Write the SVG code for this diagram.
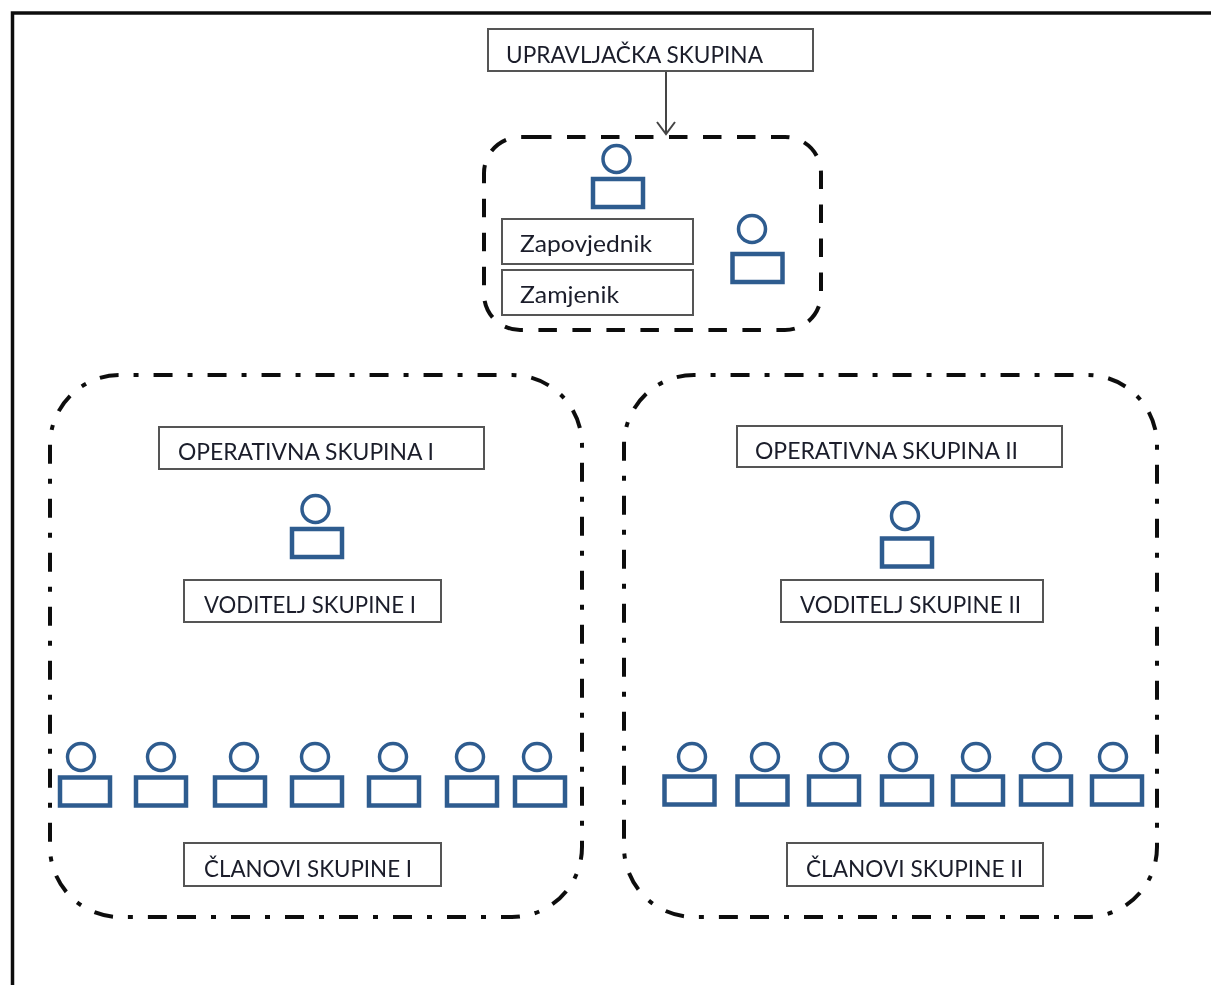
<svg xmlns="http://www.w3.org/2000/svg" width="1211" height="985" viewBox="0 0 1211 985">
<style>
.box{fill:#fff;stroke:#555;stroke-width:2}
.lbl{font-family:"Lato","Open Sans","Liberation Sans",sans-serif;font-size:24px;fill:#1a1f2b}
.dash{fill:none;stroke:#111;stroke-width:4}
.a{stroke-dasharray:18.500 15.500}
.b{stroke-dasharray:19 15 5 15}
.head{fill:#fff;stroke:#2f5b8f;stroke-width:3.500}
.body{fill:#fff;stroke:#2f5b8f;stroke-width:4.500}
.conn{fill:none;stroke:#444;stroke-width:2}
</style>
<defs>
<filter id="soft" x="0" y="0" width="100%" height="100%"><feGaussianBlur stdDeviation="0.5"/></filter>
<circle id="h" class="head" r="13.500"/>
<rect id="r" class="body" x="-25" y="-14" width="50" height="28"/>
</defs>
<g filter="url(#soft)">
<rect width="1211" height="985" fill="#fff"/>
<path id="frame" d="M1211 13H12.500V985" fill="none" stroke="#111" stroke-width="3.500"/>

<g id="group-command"><path class="dash a" d="M533 137H785A36 36 0 0 1 821 173V294A36 36 0 0 1 785 330H520A36 36 0 0 1 484 294V173A36 36 0 0 1 520 137Z"/></g>
<g id="group-op1"><path class="dash b" d="M177 917H512A70 70 0 0 0 582 847V445A70 70 0 0 0 512 375H120A70 70 0 0 0 50 445V847A70 70 0 0 0 120 917Z"/></g>
<g id="group-op2"><path class="dash b" d="M750 917H1087A70 70 0 0 0 1157 847V445A70 70 0 0 0 1087 375H694A70 70 0 0 0 624 445V847A70 70 0 0 0 694 917Z"/></g>

<g id="connectors"><path class="conn" d="M666 71V134M657 122L666 134L675 122"/></g>

<g id="upravljacka"><rect class="box" x="488" y="29" width="325" height="42"/><text class="lbl" x="506" y="63" textLength="257" lengthAdjust="spacingAndGlyphs">UPRAVLJAČKA SKUPINA</text></g>
<g id="zapovjednik"><rect class="box" x="502" y="219" width="191" height="45"/><text class="lbl" x="520" y="252" textLength="132" lengthAdjust="spacingAndGlyphs">Zapovjednik</text></g>
<g id="zamjenik"><rect class="box" x="502" y="270" width="191" height="45"/><text class="lbl" x="520" y="303" textLength="99" lengthAdjust="spacingAndGlyphs">Zamjenik</text></g>
<g id="operativna1"><rect class="box" x="159" y="427" width="325" height="42"/><text class="lbl" x="178" y="460" textLength="256" lengthAdjust="spacingAndGlyphs">OPERATIVNA SKUPINA I</text></g>
<g id="operativna2"><rect class="box" x="737" y="426" width="325" height="41"/><text class="lbl" x="755" y="459" textLength="263" lengthAdjust="spacingAndGlyphs">OPERATIVNA SKUPINA II</text></g>
<g id="voditelj1"><rect class="box" x="184" y="580" width="257" height="42"/><text class="lbl" x="204" y="613" textLength="212" lengthAdjust="spacingAndGlyphs">VODITELJ SKUPINE I</text></g>
<g id="voditelj2"><rect class="box" x="781" y="580" width="262" height="42"/><text class="lbl" x="800" y="613" textLength="221" lengthAdjust="spacingAndGlyphs">VODITELJ SKUPINE II</text></g>
<g id="clanovi1"><rect class="box" x="184" y="843" width="257" height="43"/><text class="lbl" x="204" y="877" textLength="208" lengthAdjust="spacingAndGlyphs">ČLANOVI SKUPINE I</text></g>
<g id="clanovi2"><rect class="box" x="787" y="843" width="256" height="43"/><text class="lbl" x="806" y="877" textLength="217" lengthAdjust="spacingAndGlyphs">ČLANOVI SKUPINE II</text></g>

<g id="person-commander"><use href="#h" x="616.500" y="159"/><use href="#r" x="618" y="193"/></g>
<g id="person-deputy"><use href="#h" x="752" y="229"/><use href="#r" x="757.500" y="268"/></g>
<g id="person-lead1"><use href="#h" x="315.500" y="509"/><use href="#r" x="317" y="543"/></g>
<g id="person-lead2"><use href="#h" x="905" y="516"/><use href="#r" x="907" y="552.500"/></g>
<g id="members1">
<use href="#h" x="81" y="757"/><use href="#r" x="85" y="791.500"/>
<use href="#h" x="161" y="757"/><use href="#r" x="161" y="791.500"/>
<use href="#h" x="244" y="757"/><use href="#r" x="240" y="791.500"/>
<use href="#h" x="315" y="757"/><use href="#r" x="317" y="791.500"/>
<use href="#h" x="393" y="757"/><use href="#r" x="394" y="791.500"/>
<use href="#h" x="470" y="757"/><use href="#r" x="472" y="791.500"/>
<use href="#h" x="537" y="757"/><use href="#r" x="540" y="791.500"/>
</g>
<g id="members2">
<use href="#h" x="692" y="757"/><use href="#r" x="689.500" y="790.500"/>
<use href="#h" x="765" y="757"/><use href="#r" x="762.500" y="790.500"/>
<use href="#h" x="834" y="757"/><use href="#r" x="834" y="790.500"/>
<use href="#h" x="903" y="757"/><use href="#r" x="907" y="790.500"/>
<use href="#h" x="976" y="757"/><use href="#r" x="978" y="790.500"/>
<use href="#h" x="1047" y="757"/><use href="#r" x="1046" y="790.500"/>
<use href="#h" x="1113" y="757"/><use href="#r" x="1117" y="790.500"/>
</g>
</g>
</svg>
